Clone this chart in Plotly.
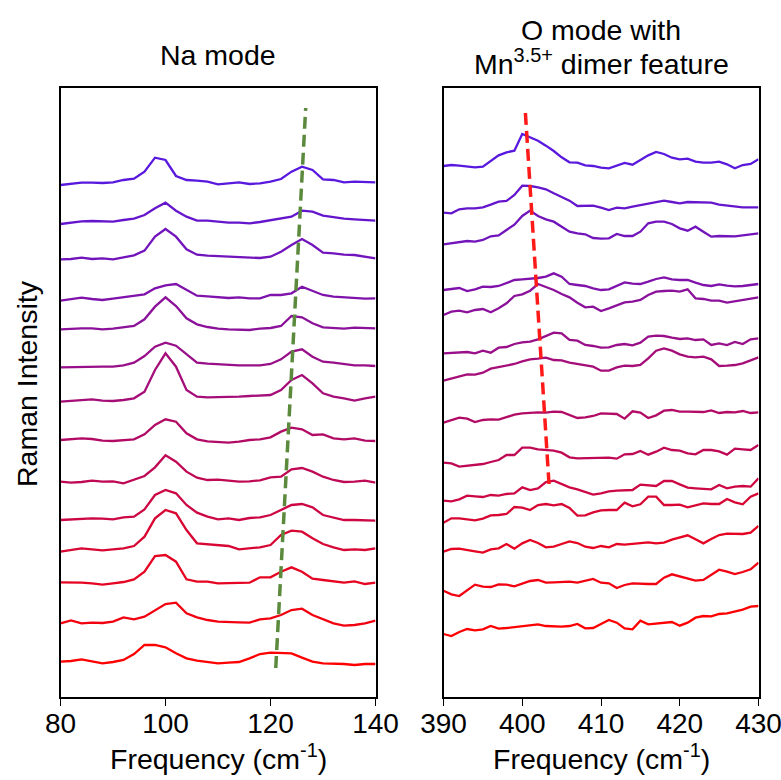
import plotly.graph_objects as go

# ---------------- data ----------------
# Na-mode region: frequency grid (cm^-1)
na_freq = list(range(80, 141, 2))
# vertical stacking offsets (a.u.), top spectrum first
na_offsets = [1536, 1419, 1313, 1189, 1103, 989, 886, 771, 646, 531, 436, 344, 221, 106]
# Raman intensity (a.u.) relative to each offset, top spectrum first
na_spectra = [
    [0, 3, 7, 7, 6, 8, 15, 19, 40, 82, 75, 27, 15, 13, 10, 2, 5, 8, 3, 5, 10, 18, 40, 55, 45, 17, 15, 8, 10, 8, 8],
    [0, 4, 8, 9, 8, 7, 12, 16, 27, 47, 64, 40, 22, 10, 10, 7, 4, 4, 2, 6, 12, 16, 22, 40, 37, 25, 20, 16, 14, 11, 10],
    [0, 1, 5, 1, 3, 0, 6, 12, 26, 68, 91, 68, 30, 14, 11, 10, 8, 8, 7, 4, 8, 23, 43, 61, 43, 20, 18, 14, 13, 8, 3],
    [0, 5, 9, 5, 2, 6, 10, 15, 19, 37, 46, 50, 32, 15, 13, 10, 8, 10, 7, 7, 17, 17, 22, 42, 30, 17, 12, 10, 7, 6, 7],
    [0, 2, 3, 3, 0, 2, 5, 10, 30, 68, 96, 70, 33, 15, 7, 2, 0, -2, -2, 2, 4, 10, 40, 36, 18, 6, 4, 2, 5, 4, 3],
    [0, 1, 0, 2, 2, 2, 6, 14, 34, 62, 74, 65, 40, 14, 11, 9, 8, 6, 6, 6, 10, 24, 47, 54, 32, 17, 14, 10, 6, 6, 4],
    [0, 3, 5, 7, 3, 2, 5, 10, 30, 95, 145, 105, 35, 15, 13, 13, 13, 15, 17, 18, 20, 35, 65, 80, 55, 25, 15, 10, 3, 10, 15],
    [0, 3, 5, 3, -2, -3, 0, 2, 17, 45, 62, 55, 20, 2, -4, -6, -8, -5, 0, 2, 8, 25, 37, 32, 15, 17, 5, 2, 5, -2, -3],
    [0, -3, -1, 3, 0, 1, -5, 5, 17, 43, 79, 60, 30, 12, 5, 6, 2, 0, 1, 4, 13, 15, 37, 41, 30, 15, 5, -1, 0, 3, -3],
    [0, 2, 4, 5, 4, 2, 8, 10, 32, 75, 90, 80, 45, 22, 10, 2, 5, 0, 6, 8, 15, 30, 45, 48, 38, 15, 8, 0, 0, -1, -2],
    [0, 5, 10, 7, 4, 7, 10, 17, 45, 100, 125, 115, 65, 25, 23, 21, 17, 7, 10, 13, 20, 50, 63, 60, 40, 23, 13, 5, 7, 5, 10],
    [0, 0, -1, -3, -7, -3, 1, 9, 32, 79, 82, 62, 9, 2, 2, -3, -3, -1, -1, 15, 15, 32, 45, 32, 11, 7, 2, -1, 3, -5, -1],
    [0, 9, 0, 2, 1, 5, 18, 12, 20, 40, 58, 62, 30, 18, 10, 5, 5, 3, 2, 12, 15, 25, 40, 44, 25, 12, 0, -7, -5, 0, 8],
    [0, 2, 7, 0, -5, -1, 5, 23, 50, 50, 43, 25, 10, 3, 0, -5, -3, -1, 10, 23, 27, 25, 25, 12, 0, -5, -5, -7, -10, -7, -7],
]
na_guide_x = [121.0, 126.7]
na_guide_y = [87, 1767]

# O-mode region
o_freq = list(range(390, 431))
o_offsets = [1593, 1453, 1358, 1221, 1146, 1031, 949, 823, 703, 589, 523, 436, 319, 189]
o_spectra = [
    [0, 3, 1, -2, -4, -2, 15, 32, 41, 46, 96, 86, 76, 61, 45, 26, 11, 10, 2, 0, -5, -7, 0, 9, 4, 18, 32, 42, 36, 25, 20, 22, 13, 10, 10, 13, 5, -7, 3, 6, 20],
    [0, -2, 10, 13, 13, 16, 24, 33, 35, 53, 81, 80, 76, 70, 58, 46, 36, 20, 20, 21, 15, 8, 15, 13, 18, 22, 26, 32, 36, 32, 28, 32, 32, 30, 30, 24, 21, 19, 16, 16, 16],
    [0, 3, 7, 10, 8, 13, 24, 27, 43, 59, 85, 101, 85, 75, 68, 53, 38, 33, 30, 19, 17, 18, 31, 25, 25, 38, 63, 68, 68, 61, 48, 41, 53, 38, 23, 25, 25, 24, 27, 29, 33],
    [0, 2, 6, -3, 2, 10, 9, 12, 20, 30, 32, 33, 36, 40, 50, 40, 18, 15, 12, 5, 0, 2, 12, 23, 19, 18, 25, 33, 38, 32, 30, 30, 22, 15, 12, 17, 13, 11, 12, 15, 18],
    [0, 10, 13, 8, 15, 18, 8, 20, 35, 57, 62, 73, 93, 85, 75, 63, 53, 37, 23, 25, 12, 20, 30, 38, 40, 45, 60, 70, 72, 73, 70, 77, 50, 48, 43, 43, 37, 41, 45, 49, 53],
    [0, 2, 3, 4, 0, 8, 2, 17, 19, 28, 33, 35, 42, 52, 62, 60, 40, 38, 25, 22, 17, 18, 25, 28, 24, 32, 50, 53, 52, 47, 43, 45, 40, 42, 25, 30, 25, 34, 28, 42, 45],
    [0, 6, 14, 19, 18, 24, 36, 41, 44, 50, 58, 64, 66, 69, 62, 61, 54, 50, 46, 42, 30, 30, 40, 45, 44, 47, 67, 90, 97, 90, 79, 72, 70, 72, 64, 44, 45, 47, 52, 62, 70],
    [0, 7, 15, 12, 2, 8, 10, 9, 16, 24, 28, 30, 31, 30, 33, 32, 23, 14, 16, 20, 28, 26, 26, 12, 34, 30, 14, 22, 36, 38, 33, 33, 33, 32, 37, 29, 32, 31, 35, 29, 31],
    [0, -2, -12, -10, -7, -4, 2, 8, 23, 23, 45, 45, 40, 39, 36, 30, 16, 13, 13, 13, 13, 15, 12, 25, 26, 35, 24, 33, 45, 38, 36, 28, 25, 38, 38, 34, 24, 42, 40, 38, 53],
    [0, -2, 4, 15, 13, 11, 17, 15, 20, 22, 40, 32, 37, 56, 60, 50, 40, 34, 27, 18, 22, 28, 30, 32, 32, 48, 46, 44, 59, 59, 49, 39, 37, 36, 34, 47, 37, 42, 44, 42, 67],
    [0, 13, 13, 11, 7, 12, 22, 23, 26, 47, 45, 38, 53, 56, 52, 56, 44, 21, 22, 31, 37, 38, 38, 60, 49, 55, 78, 78, 53, 53, 54, 46, 52, 58, 56, 56, 71, 61, 55, 78, 88],
    [0, 8, 9, 6, 1, -3, 7, 10, 23, 9, 25, 35, 26, 13, 15, 23, 31, 26, 15, 11, 17, 13, 23, 21, 24, 25, 28, 25, 27, 36, 43, 49, 37, 25, 38, 50, 54, 53, 53, 57, 77],
    [0, -11, -16, 0, 18, 12, 11, 19, 18, 13, 21, 29, 32, 24, 25, 27, 27, 24, 29, 35, 24, 22, 8, 17, 22, 20, 20, 20, 39, 49, 43, 38, 30, 32, 48, 63, 57, 50, 56, 64, 84],
    [0, -6, 6, 15, 11, 14, 24, 16, 18, 21, 24, 27, 29, 24, 22, 22, 24, 30, 17, 18, 30, 42, 34, 17, 14, 40, 29, 31, 33, 36, 25, 34, 49, 54, 53, 60, 62, 68, 73, 82, 84],
]
o_guide_x = [400.4, 403.4]
o_guide_y = [1752, 639]

# ---------------- styling ----------------
FONT = "Liberation Sans, Arial, Helvetica, sans-serif"
top_rgb = (88, 24, 222)
bot_rgb = (255, 0, 0)
n = len(na_spectra)


def trace_color(i):
    t = i / (n - 1)  # 0 = top (blue), 1 = bottom (red)
    r = round(top_rgb[0] + (bot_rgb[0] - top_rgb[0]) * t)
    g = round(top_rgb[1] + (bot_rgb[1] - top_rgb[1]) * t)
    b = round(top_rgb[2] + (bot_rgb[2] - top_rgb[2]) * t)
    return f"rgb({r},{g},{b})"


fig = go.Figure()

for i in range(n):
    c = trace_color(i)
    fig.add_trace(go.Scatter(
        x=na_freq, y=[v + na_offsets[i] for v in na_spectra[i]],
        mode="lines", line=dict(color=c, width=2.3),
        xaxis="x", yaxis="y", showlegend=False, hoverinfo="skip"))
    fig.add_trace(go.Scatter(
        x=o_freq, y=[v + o_offsets[i] for v in o_spectra[i]],
        mode="lines", line=dict(color=c, width=2.3),
        xaxis="x2", yaxis="y2", showlegend=False, hoverinfo="skip"))

fig.add_trace(go.Scatter(x=na_guide_x, y=na_guide_y, mode="lines",
                         line=dict(color="#5b8a3c", width=3.5, dash="12px,6px"),
                         xaxis="x", yaxis="y", showlegend=False, hoverinfo="skip"))
fig.add_trace(go.Scatter(x=o_guide_x, y=o_guide_y, mode="lines",
                         line=dict(color="#ff1a1a", width=3.5, dash="12px,6px"),
                         xaxis="x2", yaxis="y2", showlegend=False, hoverinfo="skip"))

W, H = 781, 780
ytop, ybot = 88, 697
xl0, xl1 = 60.5, 375.5
xr0, xr1 = 443.5, 758.5
ydom = [(H - ybot) / H, (H - ytop) / H]

axis_common = dict(showline=True, linecolor="black", linewidth=1.6, mirror=True,
                   showgrid=False, zeroline=False, automargin=False)
xcommon = dict(axis_common, ticks="outside", ticklen=7, tickwidth=1.4, tickcolor="black",
               ticklabelstandoff=-6, ticklabeloverflow="allow",
               tickfont=dict(family=FONT, size=28, color="black"))
ycommon = dict(axis_common, showticklabels=False, ticks="", range=[0, 1827])

fig.update_layout(
    width=W, height=H,
    margin=dict(l=0, r=0, t=0, b=0, pad=0, autoexpand=False),
    paper_bgcolor="white", plot_bgcolor="white",
    font=dict(family=FONT, color="black"),
    xaxis=dict(xcommon, domain=[xl0 / W, xl1 / W], range=[80, 140],
               tickvals=[80, 100, 120, 140], anchor="y"),
    yaxis=dict(ycommon, domain=ydom, anchor="x"),
    xaxis2=dict(xcommon, domain=[xr0 / W, xr1 / W], range=[390, 430],
                tickvals=[390, 400, 410, 420, 430], anchor="y2"),
    yaxis2=dict(ycommon, domain=ydom, anchor="x2"),
)

lc = (xl0 + xl1) / 2 / W
rc = (xr0 + xr1) / 2 / W
ann = [
    dict(text="Na mode", x=lc, y=(H - 55) / H),
    dict(text="O mode with", x=rc, y=(H - 30) / H),
    dict(text="Mn<sup>3.5+</sup> dimer feature", x=rc, y=(H - 62) / H),
    dict(text="Frequency (cm<sup>-1</sup>)", x=lc, y=(H - 757) / H),
    dict(text="Frequency (cm<sup>-1</sup>)", x=rc, y=(H - 757) / H),
    dict(text="Raman Intensity", x=27 / W, y=(H - 384) / H, textangle=-90),
]
for a in ann:
    fig.add_annotation(xref="paper", yref="paper", showarrow=False,
                       xanchor="center", yanchor="middle",
                       font=dict(family=FONT, size=28.5, color="black"), **a)

fig.write_html("out.html")
